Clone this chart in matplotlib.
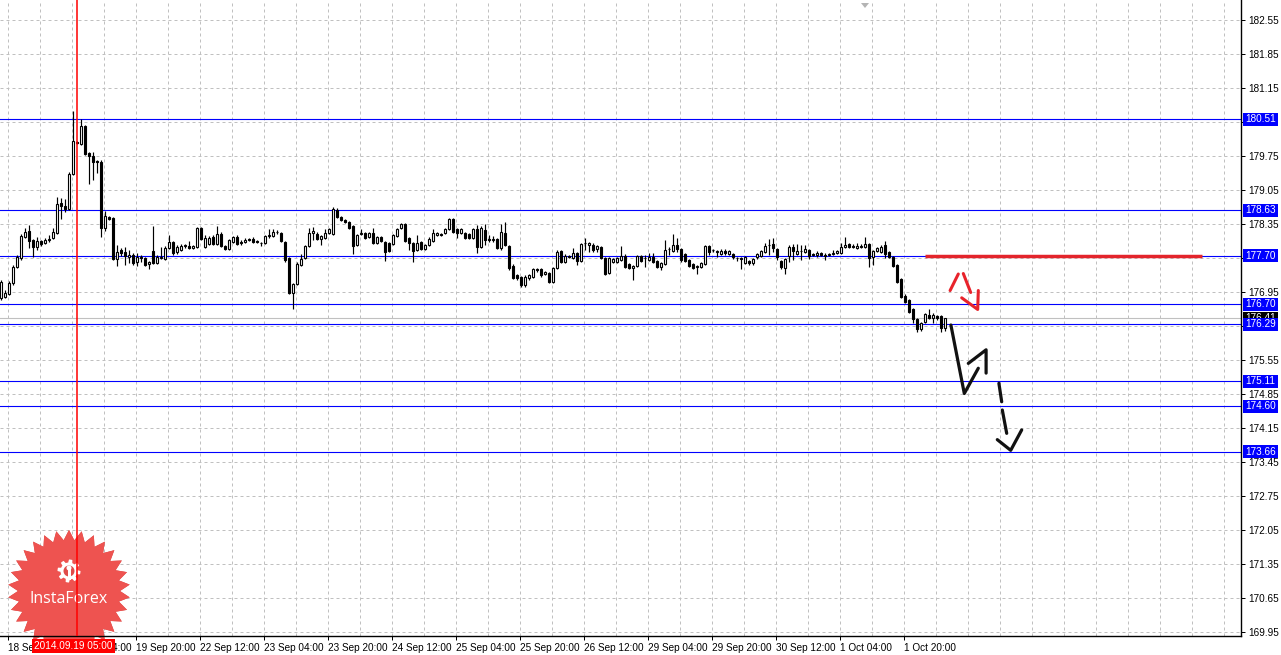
import numpy as np
import matplotlib
matplotlib.use("Agg")
import matplotlib.pyplot as plt
import matplotlib.transforms as mtransforms
from matplotlib.patches import Polygon, Rectangle, Circle

plt.rcParams['font.family'] = ['Liberation Sans', 'DejaVu Sans']

# H1 candles, 18 Sep 2014 12:00 -> 2 Oct 06:00
opens = [
    176.83, 176.85, 176.91, 177.14, 177.47, 177.65, 178.08, 178.21, 178.02, 177.88,
    178.00, 177.96, 178.02, 178.06, 178.16, 178.78, 178.72, 178.66, 179.38, 180.04,
    180.00, 180.37, 179.81, 179.75, 179.65, 179.63, 178.27, 178.49, 178.47, 177.63,
    177.82, 177.77, 177.67, 177.71, 177.57, 177.67, 177.65, 177.53, 177.79, 177.55,
    177.65, 177.63, 177.86, 177.98, 177.77, 177.82, 177.90, 177.90, 177.86, 177.88,
    178.27, 177.88, 177.94, 178.08, 177.94, 178.14, 177.90, 177.84, 177.98, 178.08,
    177.98, 177.98, 178.04, 178.04, 177.99, 177.96, 177.96, 178.10, 178.10, 178.19,
    178.16, 177.98, 177.65, 176.93, 177.11, 177.51, 177.65, 177.90, 178.16, 178.14,
    178.04, 178.06, 178.16, 178.14, 178.64, 178.49, 178.43, 178.39, 178.31, 177.92,
    178.14, 178.16, 178.08, 178.16, 177.96, 178.08, 177.98, 177.96, 177.94, 178.10,
    178.27, 178.35, 178.06, 177.96, 177.82, 177.98, 177.84, 177.92, 178.00, 178.12,
    178.14, 178.16, 178.25, 178.45, 178.25, 178.16, 178.16, 178.14, 178.06, 178.25,
    177.88, 178.23, 178.04, 178.03, 178.04, 177.86, 178.16, 177.90, 177.49, 177.30,
    177.26, 177.09, 177.24, 177.26, 177.42, 177.42, 177.32, 177.34, 177.16, 177.44,
    177.79, 177.57, 177.69, 177.65, 177.75, 177.59, 177.96, 177.92, 177.92, 177.84,
    177.88, 177.65, 177.34, 177.57, 177.57, 177.61, 177.69, 177.53, 177.44, 177.49,
    177.69, 177.65, 177.61, 177.67, 177.59, 177.47, 177.53, 177.84, 177.79, 177.92,
    177.84, 177.73, 177.61, 177.53, 177.47, 177.47, 177.53, 177.90, 177.82, 177.77,
    177.73, 177.79, 177.73, 177.73, 177.65, 177.65, 177.55, 177.59, 177.55, 177.67,
    177.69, 177.77, 177.92, 177.94, 177.84, 177.59, 177.44, 177.69, 177.88, 177.73,
    177.79, 177.77, 177.82, 177.73, 177.71, 177.75, 177.71, 177.72, 177.73, 177.75,
    177.75, 177.88, 177.94, 177.90, 177.86, 177.90, 177.88, 177.94, 177.67, 177.79,
    177.77, 177.92, 177.77, 177.67, 177.51, 177.22, 176.87, 176.79, 176.60, 176.39,
    176.19, 176.33, 176.48, 176.41, 176.46, 176.46, 176.21,
]
highs = [
    177.20, 176.99, 177.18, 177.51, 177.71, 178.14, 178.27, 178.33, 178.04, 178.08,
    178.02, 178.06, 178.12, 178.27, 178.91, 178.89, 178.87, 179.42, 180.68, 180.06,
    180.51, 180.39, 179.83, 179.83, 179.67, 179.67, 178.62, 178.51, 178.49, 177.92,
    177.86, 177.88, 177.82, 177.75, 177.75, 177.71, 177.67, 177.59, 178.31, 177.71,
    177.88, 177.90, 178.12, 178.00, 177.92, 177.94, 177.94, 178.00, 177.92, 178.29,
    178.29, 178.12, 178.10, 178.12, 178.31, 178.19, 177.92, 178.04, 178.10, 178.12,
    178.02, 178.06, 178.06, 178.08, 178.02, 177.98, 178.12, 178.25, 178.25, 178.23,
    178.19, 178.00, 177.67, 177.14, 177.57, 177.73, 177.92, 178.27, 178.29, 178.19,
    178.12, 178.25, 178.27, 178.70, 178.68, 178.51, 178.45, 178.41, 178.33, 178.14,
    178.25, 178.19, 178.19, 178.27, 178.10, 178.10, 178.00, 177.98, 178.14, 178.27,
    178.37, 178.37, 178.08, 177.98, 178.12, 178.00, 177.94, 178.08, 178.25, 178.19,
    178.16, 178.27, 178.47, 178.47, 178.27, 178.27, 178.19, 178.16, 178.27, 178.33,
    178.31, 178.35, 178.12, 178.10, 178.06, 178.35, 178.39, 177.92, 177.53, 177.32,
    177.28, 177.30, 177.32, 177.44, 177.44, 177.44, 177.38, 177.36, 177.47, 177.82,
    177.82, 177.73, 177.71, 177.86, 177.77, 177.96, 178.06, 177.98, 177.96, 177.92,
    177.90, 177.67, 177.67, 177.65, 177.67, 177.90, 177.73, 177.55, 177.51, 177.71,
    177.71, 177.71, 177.75, 177.75, 177.61, 177.57, 178.02, 177.88, 178.14, 178.06,
    177.86, 177.75, 177.63, 177.55, 177.51, 177.57, 177.92, 177.92, 177.84, 177.82,
    177.84, 177.84, 177.82, 177.75, 177.67, 177.67, 177.69, 177.61, 177.65, 177.75,
    177.82, 177.96, 178.04, 178.06, 177.86, 177.61, 177.65, 177.92, 177.94, 177.94,
    177.92, 177.92, 177.84, 177.75, 177.79, 177.77, 177.75, 177.75, 177.82, 177.82,
    177.96, 178.08, 177.96, 177.94, 177.96, 177.94, 178.08, 177.96, 177.82, 177.88,
    177.92, 178.00, 177.79, 177.69, 177.53, 177.24, 176.91, 176.81, 176.62, 176.41,
    176.33, 176.52, 176.60, 176.52, 176.48, 176.48, 176.41,
]
lows = [
    176.79, 176.83, 176.89, 177.09, 177.44, 177.61, 178.06, 177.86, 177.67, 177.82,
    177.90, 177.94, 177.98, 178.04, 178.14, 178.45, 178.60, 178.64, 179.36, 180.00,
    179.98, 179.77, 179.17, 179.26, 179.40, 178.08, 178.21, 178.43, 177.61, 177.49,
    177.69, 177.51, 177.55, 177.51, 177.49, 177.57, 177.49, 177.42, 177.53, 177.53,
    177.63, 177.61, 177.84, 177.71, 177.73, 177.80, 177.86, 177.84, 177.84, 177.86,
    178.02, 177.86, 177.92, 177.92, 177.92, 177.88, 177.82, 177.82, 177.96, 177.92,
    177.92, 177.96, 178.00, 177.96, 177.96, 177.90, 177.94, 178.06, 178.08, 178.14,
    177.98, 177.57, 176.91, 176.60, 177.09, 177.49, 177.63, 177.88, 178.02, 178.02,
    177.92, 178.04, 178.14, 178.12, 178.47, 178.41, 178.37, 178.25, 177.73, 177.90,
    178.12, 178.04, 178.06, 177.94, 177.94, 177.98, 177.59, 177.77, 177.92, 178.08,
    178.25, 177.98, 177.82, 177.57, 177.79, 177.82, 177.82, 177.90, 177.98, 178.10,
    178.10, 178.14, 178.23, 178.16, 178.06, 178.14, 178.04, 178.04, 178.04, 177.75,
    177.86, 177.92, 177.98, 177.98, 177.84, 177.82, 177.90, 177.40, 177.22, 177.20,
    177.05, 177.05, 177.20, 177.24, 177.36, 177.26, 177.30, 177.14, 177.14, 177.42,
    177.55, 177.55, 177.65, 177.63, 177.51, 177.57, 177.82, 177.77, 177.77, 177.77,
    177.63, 177.30, 177.32, 177.55, 177.55, 177.59, 177.44, 177.42, 177.20, 177.47,
    177.57, 177.47, 177.59, 177.55, 177.44, 177.40, 177.51, 177.71, 177.77, 177.77,
    177.57, 177.57, 177.47, 177.42, 177.32, 177.44, 177.51, 177.71, 177.77, 177.67,
    177.71, 177.71, 177.71, 177.63, 177.59, 177.42, 177.53, 177.51, 177.51, 177.63,
    177.67, 177.75, 177.71, 177.77, 177.61, 177.42, 177.32, 177.57, 177.61, 177.71,
    177.61, 177.75, 177.63, 177.69, 177.67, 177.69, 177.61, 177.69, 177.71, 177.73,
    177.73, 177.86, 177.86, 177.86, 177.84, 177.86, 177.86, 177.47, 177.51, 177.77,
    177.75, 177.65, 177.65, 177.47, 177.14, 176.83, 176.72, 176.52, 176.31, 176.13,
    176.15, 176.31, 176.39, 176.31, 176.37, 176.13, 176.15,
]
closes = [
    177.16, 176.93, 177.14, 177.47, 177.67, 178.10, 178.19, 178.00, 177.88, 178.00,
    177.94, 178.02, 178.04, 178.19, 178.76, 178.72, 178.66, 179.38, 180.06, 180.02,
    180.37, 179.79, 179.75, 179.63, 179.63, 178.27, 178.51, 178.45, 177.63, 177.77,
    177.75, 177.69, 177.71, 177.55, 177.67, 177.66, 177.51, 177.57, 177.55, 177.67,
    177.67, 177.86, 177.98, 177.75, 177.88, 177.90, 177.91, 177.86, 177.90, 178.27,
    178.04, 178.06, 178.06, 177.94, 178.14, 177.90, 177.84, 178.02, 178.08, 177.94,
    177.96, 178.02, 178.03, 177.98, 177.98, 177.95, 178.10, 178.12, 178.19, 178.18,
    178.00, 177.61, 176.93, 177.11, 177.53, 177.63, 177.90, 178.16, 178.21, 178.04,
    178.10, 178.16, 178.25, 178.66, 178.49, 178.43, 178.39, 178.27, 177.90, 178.12,
    178.16, 178.06, 178.16, 177.96, 178.08, 178.00, 177.77, 177.79, 178.12, 178.25,
    178.35, 178.00, 177.96, 177.79, 177.96, 177.84, 177.92, 178.04, 178.16, 178.16,
    178.13, 178.25, 178.45, 178.19, 178.16, 178.25, 178.06, 178.06, 178.25, 177.88,
    178.27, 178.02, 178.03, 178.04, 177.86, 178.19, 177.92, 177.44, 177.24, 177.24,
    177.09, 177.26, 177.30, 177.42, 177.41, 177.30, 177.36, 177.16, 177.44, 177.77,
    177.57, 177.69, 177.68, 177.75, 177.59, 177.94, 177.95, 177.96, 177.82, 177.90,
    177.65, 177.32, 177.65, 177.63, 177.65, 177.69, 177.47, 177.44, 177.49, 177.69,
    177.59, 177.64, 177.67, 177.57, 177.47, 177.55, 177.82, 177.83, 177.92, 177.84,
    177.61, 177.59, 177.49, 177.44, 177.49, 177.55, 177.90, 177.77, 177.81, 177.79,
    177.79, 177.75, 177.79, 177.67, 177.64, 177.63, 177.67, 177.55, 177.63, 177.73,
    177.79, 177.90, 177.91, 177.86, 177.67, 177.47, 177.63, 177.88, 177.79, 177.79,
    177.80, 177.84, 177.69, 177.72, 177.75, 177.71, 177.70, 177.73, 177.75, 177.79,
    177.88, 177.92, 177.88, 177.87, 177.90, 177.88, 177.94, 177.65, 177.79, 177.86,
    177.88, 177.73, 177.67, 177.49, 177.16, 176.85, 176.74, 176.54, 176.39, 176.19,
    176.31, 176.50, 176.41, 176.48, 176.41, 176.21, 176.41,
]

time_labels = ['18 Sep 12:00', '19 Sep 04:00', '19 Sep 20:00', '22 Sep 12:00',
               '23 Sep 04:00', '23 Sep 20:00', '24 Sep 12:00', '25 Sep 04:00',
               '25 Sep 20:00', '26 Sep 12:00', '29 Sep 04:00', '29 Sep 20:00',
               '30 Sep 12:00', '1 Oct 04:00', '1 Oct 20:00']
price_ticks = [169.95, 170.65, 171.35, 172.05, 172.75, 173.45, 174.15, 174.85,
               175.55, 176.25, 176.95, 177.65, 178.35, 179.05, 179.75, 180.45,
               181.15, 181.85, 182.55]

levels = [180.51, 178.63, 177.70, 176.70, 176.29, 175.11, 174.60, 173.66]
bid = 176.41
marker_bar = 19
marker_label = '2014.09.19 05:00'
target_level = 177.70
target_bars = [231.1, 300.4]

# hand drawn forecast arrows: (bars, prices)
red_strokes = [
    ([237.4, 239.45], [176.98, 177.32]),
    ([240.7, 242.55], [177.33, 176.94]),
    ([240.3, 244.3, 244.45], [176.83, 176.59, 176.98]),
]
black_strokes = [
    ([237.6, 240.95, 244.45], [176.27, 174.86, 175.38]),
    ([241.95, 246.4, 246.4], [175.48, 175.76, 175.28]),
    ([249.6, 250.3], [175.07, 174.69]),
    ([250.45, 251.55], [174.52, 174.04]),
    ([249.2, 252.55, 255.3], [173.91, 173.69, 174.11]),
]

W, H = 1281, 655
fig = plt.figure(figsize=(W / 100, H / 100), dpi=100)
fig.patch.set_facecolor('white')
ax = fig.add_axes([0, 19 / H, 1241 / W, 636 / H])
ax.set_xlim(-0.125, 310.125)
ax.set_ylim(169.867, 182.962)

# pixel transform (origin top-left) for the logo bits
pix = mtransforms.Affine2D().scale(1 / W, -1 / H).translate(0, 1) + fig.transFigure

grid_kw = dict(color='#c0c0c0', lw=0.72, ls=(0, (3, 3)), zorder=0.5)
for p in price_ticks:
    ax.axhline(p, **grid_kw)
for b in np.arange(2, 310, 8) - 0.25:
    ax.axvline(b, **grid_kw)

# levels
for lv in levels:
    ax.axhline(lv, color='#0000ff', lw=0.8, zorder=1.8)
ax.axhline(bid, color='#c0c0c0', lw=0.8, zorder=1.7)

# logo (under the chart objects)
cx, cy = 69, 591
n_pts = 30
ang = np.linspace(0, 2 * np.pi, 2 * n_pts, endpoint=False) - np.pi / 2
rad = np.where(np.arange(2 * n_pts) % 2 == 0, 61, 51)
star = np.column_stack([cx + rad * np.cos(ang), cy + rad * np.sin(ang)])
ax.add_patch(Polygon(star, closed=True, transform=pix, fc='#cf4543', ec='none',
                     zorder=1.5, clip_on=False))
right_half = Polygon(star, closed=True, transform=pix, fc='#ee5350', ec='none',
                     zorder=1.55, clip_on=False)
ax.add_patch(right_half)
clip_rect = Rectangle((cx, 0), 200, H, transform=pix)
right_half.set_clip_path(clip_rect)

gcx, gcy = 69, 571
g_ang = np.linspace(0, 2 * np.pi, 64, endpoint=False)
g_rad = np.where((np.arange(64) // 4) % 2 == 0, 11.5, 8.5)
gear = np.column_stack([gcx + g_rad * np.cos(g_ang), gcy + g_rad * np.sin(g_ang)])
ax.add_patch(Polygon(gear, closed=True, transform=pix, fc='white', ec='none',
                     zorder=1.6, clip_on=False))
ax.add_patch(Circle((gcx, gcy), 5.5, transform=pix, fc='#e04c4a', ec='none',
                    zorder=1.65, clip_on=False))
ax.add_patch(Rectangle((gcx - 1.5, gcy - 3), 3, 12, transform=pix, fc='white',
                       ec='none', zorder=1.7, clip_on=False))
ax.add_patch(Circle((gcx, gcy - 3), 2.5, transform=pix, fc='white', ec='none',
                    zorder=1.7, clip_on=False))
ax.text(cx, 599, 'InstaForex', transform=pix, color='white', fontsize=11.5,
        ha='center', va='center', zorder=1.7, family=['Open Sans', 'DejaVu Sans'])

# candles
x = np.arange(len(opens))
o = np.array(opens)
c = np.array(closes)
ax.vlines(x, lows, highs, color='black', lw=0.85, zorder=2)
body_col = np.where(c >= o, 'white', 'black')
ax.bar(x, np.abs(c - o), bottom=np.minimum(o, c), width=0.5, color=body_col,
       edgecolor='black', linewidth=0.8, zorder=2.1)

# marker line
ax.axvline(marker_bar, color='#ff0000', lw=1.1, zorder=3)

# target line and arrows
ax.plot(target_bars, [target_level, target_level], color='#e3242b', lw=2.5,
        solid_capstyle='butt', zorder=3)
for bx, py in red_strokes:
    ax.plot(bx, py, color='#e8232b', lw=2.2, solid_capstyle='round',
            solid_joinstyle='round', zorder=4)
for bx, py in black_strokes:
    ax.plot(bx, py, color='#111111', lw=2.3, solid_capstyle='round',
            solid_joinstyle='round', zorder=4)

# axes styling
for s in ['left', 'top']:
    ax.spines[s].set_visible(False)
for s in ['right', 'bottom']:
    ax.spines[s].set_color('black')
    ax.spines[s].set_linewidth(1.0)
ax.yaxis.tick_right()
# scale values hidden behind a level label are left blank
tick_text = ['' if min(abs(p - lv) for lv in levels) < 0.1 else '%.2f' % p
             for p in price_ticks]
ax.set_yticks(price_ticks, tick_text)
ax.tick_params(axis='y', direction='out', length=3, width=0.72, pad=2,
               labelsize=7.2, colors='black')
tick_bars = np.arange(len(time_labels)) * 16 + 2 - 0.25
ax.set_xticks(tick_bars, time_labels)
for lbl in ax.get_xticklabels():
    lbl.set_ha('left')
ax.tick_params(axis='x', direction='out', length=3, width=0.72, pad=2,
               labelsize=7.2, colors='black')

# price labels on the scale
ytr = ax.get_yaxis_transform()
box_w = 36 / 1241
box_x = 1242.5 / 1241
px_price = (ax.get_ylim()[1] - ax.get_ylim()[0]) / 636


def price_box(val, fc, z):
    ax.add_patch(Rectangle((box_x, val - 6.5 * px_price), box_w, 13 * px_price,
                           transform=ytr, fc=fc, ec='none', zorder=z,
                           clip_on=False))
    ax.text(box_x + box_w / 2, val, '%.2f' % val, transform=ytr, color='white',
            fontsize=7.2, ha='center', va='center', zorder=z + 0.1,
            clip_on=False)


price_box(bid, 'black', 6)
for lv in levels:
    price_box(lv, '#0000ff', 7)

# date of the marker line
btr = mtransforms.blended_transform_factory(ax.transData, ax.transAxes)
ax.text(marker_bar - 0.7, -0.0165, marker_label, transform=btr, color='white',
        fontsize=7.2, ha='center', va='center', zorder=8, clip_on=False,
        bbox=dict(boxstyle='square,pad=0.2', fc='#ff0000', ec='none'))

# small scroll marker at the top
ax.add_patch(Polygon([[861, 3], [869, 3], [865, 8]], closed=True, transform=pix,
                     fc='#b4b4b4', ec='none', zorder=8, clip_on=False))

fig.savefig('out.png', dpi=100, facecolor='white')
